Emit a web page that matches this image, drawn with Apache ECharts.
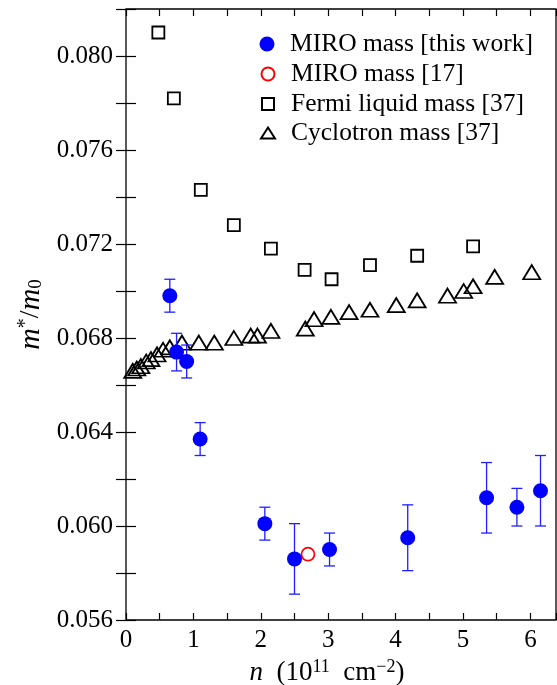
<!DOCTYPE html>
<html style="height: 100%">
<head>
    <meta charset="utf-8">
</head>
<body style="height: 100%; margin: 0; background: #fff">
<div id="container" style="width: 557px; height: 685px"></div>
<script type="text/javascript" src="https://cdn.jsdelivr.net/npm/echarts@6/dist/echarts.min.js"></script>
<script type="text/javascript">
    // MIRO mass, this work (n in 1e11 cm^-2)
    var miroN = [0.65, 0.75, 0.90, 1.10, 2.06, 2.50, 3.02, 4.18, 5.35, 5.80, 6.15];
    var miroM = [0.0698, 0.0674, 0.0670, 0.0637, 0.0601, 0.0586, 0.0590, 0.0595, 0.0612, 0.0608, 0.0615];
    var miroErr = [0.0007, 0.0008, 0.0007, 0.0007, 0.0007, 0.0015, 0.0007, 0.0014, 0.0015, 0.0008, 0.0015];

    // MIRO mass [17]
    var refN = [2.70];
    var refM = [0.0588];

    // Fermi liquid mass [37]
    var fermiN = [0.48, 0.71, 1.11, 1.60, 2.15, 2.65, 3.05, 3.62, 4.32, 5.15];
    var fermiM = [0.0810, 0.0782, 0.0743, 0.0728, 0.0718, 0.0709, 0.0705, 0.0711, 0.0715, 0.0719];

    // Cyclotron mass [37]
    var cycN = [0.10, 0.16, 0.22, 0.30, 0.37, 0.46, 0.55, 0.65, 0.83, 1.08, 1.31, 1.60, 1.85, 1.95,
        2.15, 2.66, 2.79, 3.04, 3.31, 3.62, 4.01, 4.32, 4.77, 5.01, 5.15, 5.47, 6.02];
    var cycM = [0.0666, 0.0667, 0.0668, 0.0670, 0.0671, 0.0673, 0.0675, 0.0676, 0.0678, 0.0678, 0.0678, 0.0680, 0.0681, 0.0681,
        0.0683, 0.0684, 0.0688, 0.0689, 0.0691, 0.0692, 0.0694, 0.0696, 0.0698, 0.0700, 0.0702, 0.0706, 0.0708];

    var names = ['MIRO mass [this work]', 'MIRO mass [17]', 'Fermi liquid mass [37]', 'Cyclotron mass [37]'];

    function pairs(xs, ys) {
        var out = [];
        for (var i = 0; i < xs.length; i++) out.push([xs[i], ys[i]]);
        return out;
    }

    var errData = [];
    for (var i = 0; i < miroN.length; i++) {
        errData.push([miroN[i], miroM[i] - miroErr[i], miroM[i] + miroErr[i]]);
    }

    var FONT = 'Liberation Serif';
    var BLUE = '#0000ff';

    var dom = document.getElementById('container');
    var myChart = echarts.init(dom);

    function oneLegend(name, icon, w, h, cy, pad) {
        return {
            data: [{name: name, icon: icon}],
            orient: 'vertical',
            left: 267 - w / 2,
            top: cy - 13,
            itemWidth: w,
            itemHeight: h,
            padding: 0,
            selectedMode: false,
            textStyle: {
                fontFamily: FONT, fontSize: 25.5, color: '#000', lineHeight: 26,
                padding: [0, 0, 0, pad]
            }
        };
    }

    var option = {
        backgroundColor: '#fff',
        animation: false,
        grid: {
            left: 126, right: 1, top: 9, bottom: 65,
            outerBoundsMode: 'none', containLabel: false,
            show: true, borderColor: '#000', borderWidth: 1.3, backgroundColor: 'transparent'
        },
        legend: [
            oneLegend(names[0], 'circle', 15, 15, 44, 10.5),
            oneLegend(names[1], 'circle', 13, 13, 74, 11.5),
            oneLegend(names[2], 'rect', 12, 12, 104, 12),
            oneLegend(names[3], 'triangle', 14, 11, 133, 11)
        ],
        xAxis: [{
            type: 'value', min: 0, max: 6.38, interval: 1,
            position: 'bottom',
            name: '{i|n}  (10{sup|11}  cm{sup|−2})',
            nameLocation: 'middle', nameGap: 38,
            nameTextStyle: {
                fontFamily: FONT, fontSize: 27, color: '#000', lineHeight: 30,
                padding: [0, 28, 0, 0],
                rich: {
                    i: {fontFamily: FONT, fontStyle: 'italic', fontSize: 27, lineHeight: 30},
                    sup: {fontFamily: FONT, fontSize: 18, verticalAlign: 'top', lineHeight: 30, padding: [0, 0, 8, 0]}
                }
            },
            axisLine: {show: false},
            axisTick: {inside: true, length: 7, lineStyle: {color: '#000', width: 1.2}},
            minorTick: {show: true, splitNumber: 2, length: 7, lineStyle: {color: '#000', width: 1.2}},
            splitLine: {show: false},
            axisLabel: {
                fontFamily: FONT, fontSize: 25, color: '#000', margin: 8, showMaxLabel: false,
                formatter: function (v) { return String(v); }
            }
        }, {
            type: 'value', min: 0, max: 6.38, interval: 1,
            position: 'top',
            axisLine: {show: false},
            axisTick: {inside: true, length: 7, lineStyle: {color: '#000', width: 1.2}},
            minorTick: {show: true, splitNumber: 2, length: 7, lineStyle: {color: '#000', width: 1.2}},
            splitLine: {show: false},
            axisLabel: {show: false}
        }],
        yAxis: [{
            type: 'value', min: 0.056, max: 0.082, interval: 0.004,
            position: 'left',
            name: '{i|m}{sup|*}/{i|m}{sub|0}',
            nameLocation: 'middle', nameGap: 80,
            nameTextStyle: {
                fontFamily: FONT, fontSize: 28, color: '#000', lineHeight: 30,
                rich: {
                    i: {fontFamily: FONT, fontStyle: 'italic', fontSize: 30, lineHeight: 30},
                    sup: {fontFamily: FONT, fontSize: 20, verticalAlign: 'top', lineHeight: 30},
                    sub: {fontFamily: FONT, fontSize: 19, verticalAlign: 'bottom', lineHeight: 30, padding: [8, 0, 0, 0]}
                }
            },
            axisLine: {show: false},
            axisTick: {inside: true, length: 10, lineStyle: {color: '#000', width: 1.2}},
            minorTick: {show: true, splitNumber: 2, length: 10, lineStyle: {color: '#000', width: 1.2}},
            splitLine: {show: false},
            axisLabel: {
                fontFamily: FONT, fontSize: 25, color: '#000', margin: 13, showMaxLabel: false,
                formatter: function (v) { return v.toFixed(3); }
            }
        }, {
            type: 'value', min: 0.056, max: 0.082, interval: 0.004,
            position: 'right',
            axisLine: {show: false},
            axisTick: {inside: true, length: 10, lineStyle: {color: '#000', width: 1.2}},
            minorTick: {show: true, splitNumber: 2, length: 10, lineStyle: {color: '#000', width: 1.2}},
            splitLine: {show: false},
            axisLabel: {show: false}
        }],
        series: [{
            name: names[3],
            type: 'scatter',
            data: pairs(cycN, cycM),
            symbol: 'triangle',
            symbolSize: [17, 14],
            itemStyle: {color: 'transparent', borderColor: '#000', borderWidth: 1.8, opacity: 1},
            z: 2
        }, {
            name: names[2],
            type: 'scatter',
            data: pairs(fermiN, fermiM),
            symbol: 'rect',
            symbolSize: 12,
            itemStyle: {color: 'transparent', borderColor: '#000', borderWidth: 1.8, opacity: 1},
            z: 2
        }, {
            name: 'err',
            type: 'custom',
            data: errData,
            renderItem: function (params, api) {
                var lo = api.coord([api.value(0), api.value(1)]);
                var hi = api.coord([api.value(0), api.value(2)]);
                var c = 5.5;
                var st = {stroke: '#1f1fff', lineWidth: 1.3};
                return {
                    type: 'group',
                    children: [
                        {type: 'line', shape: {x1: lo[0], y1: lo[1], x2: hi[0], y2: hi[1]}, style: st},
                        {type: 'line', shape: {x1: lo[0] - c, y1: lo[1], x2: lo[0] + c, y2: lo[1]}, style: st},
                        {type: 'line', shape: {x1: hi[0] - c, y1: hi[1], x2: hi[0] + c, y2: hi[1]}, style: st}
                    ]
                };
            },
            z: 3
        }, {
            name: names[1],
            type: 'scatter',
            data: pairs(refN, refM),
            symbol: 'circle',
            symbolSize: 13,
            itemStyle: {color: 'transparent', borderColor: '#ff0000', borderWidth: 1.7, opacity: 1},
            z: 4
        }, {
            name: names[0],
            type: 'scatter',
            data: pairs(miroN, miroM),
            symbol: 'circle',
            symbolSize: 15,
            itemStyle: {color: BLUE, opacity: 1},
            z: 5
        }]
    };

    myChart.setOption(option, true);
</script>
</body>
</html>
